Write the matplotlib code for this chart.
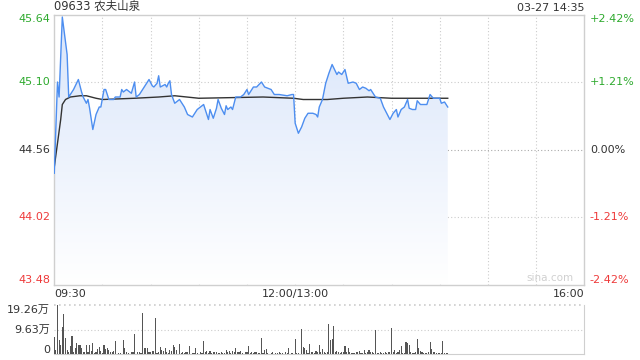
import numpy as np
import matplotlib
matplotlib.use('Agg')
from matplotlib import pyplot as plt
from matplotlib.colors import LinearSegmentedColormap

plt.rcParams['font.family'] = ['DejaVu Sans', 'Noto Sans CJK SC']

# minutes since 09:30 (trading minutes, lunch removed) and price
price_t = [0, 2, 3, 5, 8, 9, 12, 15, 17, 18, 20, 21, 22, 24, 26, 28, 29, 31, 32, 34,
           37, 38, 41, 42, 43, 45, 47, 48, 50, 51, 53, 56, 59, 61, 62, 64, 65, 66, 69, 70,
           71, 72, 73, 75, 78, 81, 83, 86, 89, 92, 93, 95, 96, 97, 99, 101, 102, 104, 106, 107,
           108, 110, 111, 113, 116, 118, 120, 121, 124, 126, 129, 131, 133, 135, 137, 140, 145, 148, 149, 150,
           152, 154, 156, 158, 161, 163, 164, 165, 167, 169, 171, 173, 176, 177, 179, 181, 183, 186, 188, 190,
           192, 194, 196, 197, 200, 203, 205, 207, 209, 211, 213, 214, 216, 218, 220, 221, 223, 225, 226, 228,
           232, 234, 236, 240, 241, 243, 245]
price = [44.37, 45.10, 44.98, 45.62, 45.32, 44.98, 45.04, 45.12, 45.02, 44.98, 44.93, 44.96, 44.89, 44.72, 44.84, 44.90, 44.90, 45.04, 45.04, 44.96,
         44.96, 44.98, 44.98, 45.04, 45.02, 45.04, 45.02, 45.01, 45.10, 44.98, 45.00, 45.06, 45.12, 45.07, 45.06, 45.09, 45.15, 45.06, 45.08, 45.06,
         45.09, 45.11, 45.00, 44.93, 44.96, 44.90, 44.84, 44.82, 44.88, 44.91, 44.92, 44.84, 44.80, 44.88, 44.81, 44.89, 44.96, 44.89, 44.84, 44.91,
         44.88, 44.90, 44.88, 44.98, 44.98, 45.00, 45.04, 45.00, 45.06, 45.06, 45.10, 45.06, 45.05, 45.04, 45.00, 45.00, 44.99, 45.00, 45.00, 44.77,
         44.69, 44.74, 44.81, 44.85, 44.85, 44.84, 44.82, 44.90, 44.96, 45.09, 45.17, 45.24, 45.16, 45.18, 45.16, 45.20, 45.09, 45.10, 45.09, 45.04,
         45.06, 45.05, 45.03, 45.04, 44.98, 44.97, 44.90, 44.85, 44.80, 44.85, 44.88, 44.82, 44.88, 44.90, 44.96, 44.89, 44.88, 44.88, 44.95, 44.92,
         44.92, 45.00, 44.97, 44.97, 44.93, 44.94, 44.90]

avg_t = [0, 2, 4, 5, 7, 10, 16, 20, 26, 30, 50, 65, 75, 90, 130, 149, 155, 170, 180, 195, 210, 245]
avg_price = [44.42, 44.61, 44.80, 44.92, 44.96, 44.98, 44.99, 44.99, 44.97, 44.96, 44.97, 44.98, 44.99, 44.97, 44.98, 44.97, 44.96, 44.96, 44.97, 44.98, 44.97, 44.97]

# volume per minute, in 万
volume = [6.9, 1.5, 19.26, 5.6, 3.6, 10.8, 15.7, 6.2, 1.7, 1.0,
          3.2, 7.2, 1.0, 2.3, 4.3, 3.6, 3.6, 2.3, 1.0, 1.0,
          3.6, 0.8, 3.6, 1.3, 4.3, 0.5, 1.0, 2.1, 3.0, 1.4,
          0.6, 3.6, 2.0, 2.3, 1.7, 1.0, 1.0, 1.3, 5.2, 0.3,
          0.4, 0.6, 0.3, 5.6, 2.3, 1.0, 0.4, 0.3, 0.8, 1.0,
          7.9, 0.3, 1.0, 1.0, 0.6, 16.0, 2.3, 2.3, 2.3, 1.0,
          1.0, 1.4, 1.4, 14.0, 0.4, 1.0, 3.0, 1.7, 1.4, 2.3,
          1.0, 0.4, 1.7, 1.4, 3.6, 3.0, 1.7, 0.3, 4.0, 0.6,
          1.0, 0.6, 1.0, 1.0, 3.4, 0.3, 0.6, 0.6, 2.3, 0.6,
          0.3, 1.0, 0.6, 5.2, 1.0, 1.3, 0.6, 1.4, 0.6, 0.8,
          0.8, 1.0, 0.6, 0.4, 0.8, 0.6, 0.5, 1.7, 1.0, 1.3,
          0.6, 1.3, 1.0, 2.3, 1.0, 0.8, 1.4, 0.6, 0.3, 1.0,
          0.8, 3.4, 0.6, 0.8, 0.6, 1.0, 1.0, 0.6, 0.6, 6.5,
          0.4, 1.7, 2.1, 0.6, 0.3, 0.4, 0.8, 0.3, 0.4, 0.6,
          1.0, 0.6, 0.4, 0.3, 0.8, 0.4, 2.3, 0.3, 0.6, 0.3,
          6.0, 0.4, 0.6, 0.3, 9.9, 3.0, 2.6, 1.7, 0.6, 4.0,
          1.0, 1.0, 0.6, 1.3, 0.8, 3.6, 1.0, 2.0, 1.0, 0.4,
          1.0, 11.8, 5.6, 5.9, 11.2, 1.0, 1.4, 1.0, 0.6, 1.0,
          0.8, 3.2, 1.0, 2.3, 1.0, 0.4, 0.4, 0.6, 0.8, 1.0,
          1.3, 0.4, 0.6, 1.7, 0.6, 1.0, 1.7, 0.8, 1.0, 0.6,
          9.5, 0.6, 0.4, 0.8, 0.4, 0.6, 0.8, 0.6, 1.0, 0.8,
          10.4, 0.8, 1.7, 0.4, 0.8, 1.7, 3.4, 0.4, 0.6, 4.7,
          4.3, 3.6, 0.8, 0.6, 0.4, 0.8, 5.9, 2.3, 1.4, 0.8,
          0.4, 0.4, 0.6, 0.8, 4.7, 2.0, 1.0, 0.8, 0.6, 0.4,
          0.4, 0.6, 5.2, 0.6, 0.6, 0.4]

left_ticks = [43.48, 44.02, 44.56, 45.10, 45.64]
right_labels = ['-2.42%', '-1.21%', '0.00%', '+1.21%', '+2.42%']
vol_ticks = [0, 9.63, 19.26]
vol_labels = ['0', '9.63万', '19.26万']
x_labels = ['09:30', '12:00/13:00', '16:00']
x_label_pos = [0, 150, 330]

GREEN = '#2eaa2e'
RED = '#ee3a3a'
DARK = '#333333'
GRID = '#cccccc'
FS = 8


def main():
    fig = plt.figure(figsize=(6.4, 3.6), dpi=100)
    ax = fig.add_axes([0.0848, 0.2097, 0.8281, 0.7500])
    vax = fig.add_axes([0.0848, 0.0158, 0.8281, 0.1370])

    ymin, ymax = left_ticks[0], left_ticks[-1]
    ax.set_xlim(0, 330)
    ax.set_ylim(ymin, ymax)

    # grid
    for x in range(30, 330, 30):
        ax.axvline(x, color=GRID, lw=0.8, ls=(0, (1, 2)), zorder=1)
    for y in left_ticks[1:-1]:
        c = '#aaaaaa' if y == 44.56 else GRID
        ax.axhline(y, color=c, lw=0.8, ls=(0, (1, 2)), zorder=1)

    # gradient area under price
    poly = ax.fill_between(price_t, price, ymin, color='none', lw=0)
    cmap = LinearSegmentedColormap.from_list('blu', ['#ffffff', '#d9e5fa'])
    grad = np.linspace(0, 1, 256).reshape(-1, 1)
    im = ax.imshow(grad, cmap=cmap, aspect='auto', origin='lower',
                   extent=[0, 330, ymin, max(price)], zorder=2)
    im.set_clip_path(poly.get_paths()[0], transform=ax.transData)

    ax.plot(price_t, price, color='#4d8ef0', lw=1.0, zorder=4)
    ax.plot(avg_t, avg_price, color='#333333', lw=1.0, zorder=3)

    for s in ax.spines.values():
        s.set_color('#cfcfcf')
        s.set_linewidth(1.0)
    ax.set_xticks([])
    ax.set_yticks([])

    # left price labels
    offsets = [3.5, 0, 0, 0, -3.5]
    colors = [RED, RED, DARK, GREEN, GREEN]
    for y, off, c in zip(left_ticks, offsets, colors):
        ax.annotate(f'{y:.2f}', (0, y), xycoords=('axes fraction', 'data'),
                    xytext=(-3, off), textcoords='offset points',
                    ha='right', va='center', fontsize=FS, color=c)
    for y, lab, off, c in zip(left_ticks, right_labels, offsets, colors):
        ax.annotate(lab, (1, y), xycoords=('axes fraction', 'data'),
                    xytext=(4, off), textcoords='offset points',
                    ha='left', va='center', fontsize=FS, color=c)

    # time labels
    has = ['left', 'center', 'right']
    for x, lab, ha in zip(x_label_pos, x_labels, has):
        ax.annotate(lab, (x, 0), xycoords=('data', 'axes fraction'),
                    xytext=(0, -3), textcoords='offset points',
                    ha=ha, va='top', fontsize=FS, color=DARK)

    ax.text(0, 1.005, '09633 农夫山泉', transform=ax.transAxes, ha='left', va='bottom',
            fontsize=8.3, color=DARK)
    ax.text(1, 1.005, '03-27 14:35', transform=ax.transAxes, ha='right', va='bottom',
            fontsize=FS, color=DARK)
    ax.text(0.98, 0.005, 'sina.com', transform=ax.transAxes, ha='right', va='bottom',
            fontsize=7.5, color='#d0d0d0')

    # volume panel
    vax.bar(np.arange(len(volume)), volume, width=0.7, color='#555555', zorder=3)
    vax.set_xlim(0, 330)
    vax.set_ylim(0, vol_ticks[-1])
    vax.axhline(vol_ticks[1], color=GRID, lw=0.8, ls=(0, (1, 2)), zorder=1)
    vax.axhline(vol_ticks[2], color=GRID, lw=1.2, ls=(0, (1, 2)), zorder=1, clip_on=False)
    vax.spines['top'].set_visible(False)
    vax.spines['left'].set_visible(False)
    vax.spines['right'].set_color('#cfcfcf')
    vax.spines['bottom'].set_color('#cfcfcf')
    vax.set_xticks([])
    vax.set_yticks([])
    v_off = [3, 0, -3.5]
    for y, lab, off in zip(vol_ticks, vol_labels, v_off):
        vax.annotate(lab, (0, y), xycoords=('axes fraction', 'data'),
                     xytext=(-3, off), textcoords='offset points',
                     ha='right', va='center', fontsize=FS, color=DARK,
                     family=['DejaVu Sans', 'Noto Sans CJK SC'])

    fig.savefig('out.png', dpi=100, facecolor='white')


if __name__ == '__main__':
    main()
